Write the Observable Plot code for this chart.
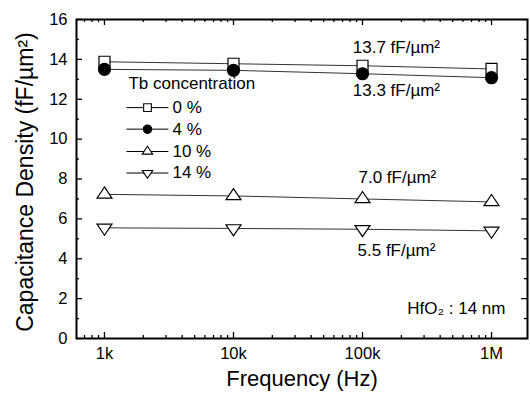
<!DOCTYPE html>
<html>
<head>
<meta charset="utf-8">
<script src="https://cdn.jsdelivr.net/npm/d3@7"></script>
<script src="https://cdn.jsdelivr.net/npm/@observablehq/plot@0.6"></script>
<style>
  html, body { margin: 0; padding: 0; background: #fff; }
  #chart { width: 530px; height: 397px; }
  #chart svg, #chart svg text { font-family: "Liberation Sans", Arial, sans-serif !important; }
</style>
</head>
<body>
<div id="chart"></div>
<script>
// ---- data ----
const freqs = [1e3, 1e4, 1e5, 1e6];
const freqLabels = ["1k", "10k", "100k", "1M"];
const series = ["0 %", "4 %", "10 %", "14 %"];
const cap0 = [13.88, 13.78, 13.68, 13.52];
const cap4 = [13.50, 13.45, 13.28, 13.08];
const cap10 = [7.23, 7.15, 7.00, 6.85];
const cap14 = [5.55, 5.52, 5.48, 5.40];
const yTicks = [0, 2, 4, 6, 8, 10, 12, 14, 16];
const annotations = [
  {text: "13.7 fF/\u00b5m\u00b2", f: 8.4e4, v: 14.6},
  {text: "13.3 fF/\u00b5m\u00b2", f: 8.4e4, v: 12.45},
  {text: "7.0 fF/\u00b5m\u00b2", f: 9.3e4, v: 8.05},
  {text: "5.5 fF/\u00b5m\u00b2", f: 9.15e4, v: 4.42}
];
const legendTitle = "Tb concentration";
const noteText = "HfO\u2082 : 14 nm";

// ---- build ----
const allValues = [cap0, cap4, cap10, cap14];
const rows = series.flatMap((s, i) => freqs.map((f, j) => ({series: s, f, v: allValues[i][j]})));

const triUp = {draw(ctx, size) { const r = Math.sqrt(size / Math.PI), w = 1.25 * r, h = 1.85 * r;
  ctx.moveTo(0, -2 * h / 3); ctx.lineTo(w, h / 3); ctx.lineTo(-w, h / 3); ctx.closePath(); }};
const triDown = {draw(ctx, size) { const r = Math.sqrt(size / Math.PI), w = 1.25 * r, h = 1.85 * r;
  ctx.moveTo(0, 2 * h / 3); ctx.lineTo(w, -h / 3); ctx.lineTo(-w, -h / 3); ctx.closePath(); }};
const styles = [
  {symbol: "square", fill: "white", r: 6.2},
  {symbol: "circle", fill: "black", r: 6},
  {symbol: triUp, fill: "white", r: 6},
  {symbol: triDown, fill: "white", r: 6}
];

const W = 530, H = 397, mL = 76, mR = 3, mT = 19, mB = 59;
const fw = W - mL - mR, fh = H - mT - mB;
const xDomain = [607, 1.9e6];
const minorX = [];
for (let d = 100; d <= 1e6; d *= 10) for (let k = 2; k <= 9; k++) { const v = k * d; if (v > xDomain[0] && v < xDomain[1]) minorX.push(v); }
const minorY = d3.range(1, 16, 2);

// legend layout (in data space, upper-left corner)
const legX1 = 1480, legX2 = 3130, legXs = 2155, legXt = 3365, legXTitle = 1535;
const legY = [11.58, 10.5, 9.38, 8.3], legTitleY = 12.8;

const marks = [];
const tickW = 1.3;
marks.push(Plot.ruleX(freqs, {x: d => d, insetTop: fh - 6, strokeWidth: tickW}));
marks.push(Plot.ruleX(freqs, {x: d => d, insetBottom: fh - 6, strokeWidth: tickW}));
marks.push(Plot.ruleX(minorX, {x: d => d, insetTop: fh - 3, strokeWidth: tickW}));
marks.push(Plot.ruleX(minorX, {x: d => d, insetBottom: fh - 3, strokeWidth: tickW}));
marks.push(Plot.ruleY(yTicks, {y: d => d, insetRight: fw - 6, strokeWidth: tickW}));
marks.push(Plot.ruleY(yTicks, {y: d => d, insetLeft: fw - 6, strokeWidth: tickW}));
marks.push(Plot.ruleY(minorY, {y: d => d, insetRight: fw - 3, strokeWidth: tickW}));
marks.push(Plot.ruleY(minorY, {y: d => d, insetLeft: fw - 3, strokeWidth: tickW}));
marks.push(Plot.frame({stroke: "black", strokeWidth: 2}));
marks.push(Plot.axisX(freqs, {tickSize: 0, tickPadding: 9, fontSize: 16.5, label: null,
  tickFormat: d => freqLabels[freqs.indexOf(d)]}));
marks.push(Plot.axisY(yTicks, {tickSize: 0, tickPadding: 9, fontSize: 16.5, label: null}));
marks.push(Plot.text(["Frequency (Hz)"], {frameAnchor: "bottom", dy: 47, fontSize: 22}));
marks.push(Plot.text(["Capacitance Density (fF/\u00b5m\u00b2)"], {frameAnchor: "left", textAnchor: "middle",
  dx: -51, dy: 3, rotate: -90, fontSize: 23}));
marks.push(Plot.line(rows, {x: "f", y: "v", z: "series", stroke: "#333", strokeWidth: 1}));
series.forEach((s, i) => {
  marks.push(Plot.dot(rows.filter(d => d.series === s), {x: "f", y: "v", symbol: styles[i].symbol,
    r: styles[i].r, fill: styles[i].fill, stroke: "black", strokeWidth: 1.2}));
});
marks.push(Plot.text(annotations, {x: "f", y: "v", text: "text", textAnchor: "start", fontSize: 17}));
marks.push(Plot.text([noteText], {frameAnchor: "bottom-right", dx: -22, dy: -25, textAnchor: "end", fontSize: 17}));
marks.push(Plot.text([legendTitle], {x: legXTitle, y: legTitleY, textAnchor: "start", fontSize: 17}));
const legRows = series.map((s, i) => ({s, y: legY[i], i}));
marks.push(Plot.link(legRows, {x1: legX1, x2: legX2, y1: "y", y2: "y", stroke: "black", strokeWidth: 1}));
legRows.forEach(d => {
  marks.push(Plot.dot([d], {x: legXs, y: "y", symbol: styles[d.i].symbol, r: styles[d.i].r * 0.7,
    fill: styles[d.i].fill, stroke: "black", strokeWidth: 1.1}));
});
marks.push(Plot.text(legRows, {x: legXt, y: "y", text: "s", textAnchor: "start", fontSize: 17}));

const plot = Plot.plot({
  width: W, height: H,
  marginLeft: mL, marginRight: mR, marginTop: mT, marginBottom: mB,
  style: {fontFamily: "'Liberation Sans', Arial, sans-serif", color: "black", background: "white"},
  x: {type: "log", domain: xDomain, axis: null},
  y: {domain: [0, 16], axis: null},
  marks
});
document.getElementById("chart").appendChild(plot);
</script>
</body>
</html>
